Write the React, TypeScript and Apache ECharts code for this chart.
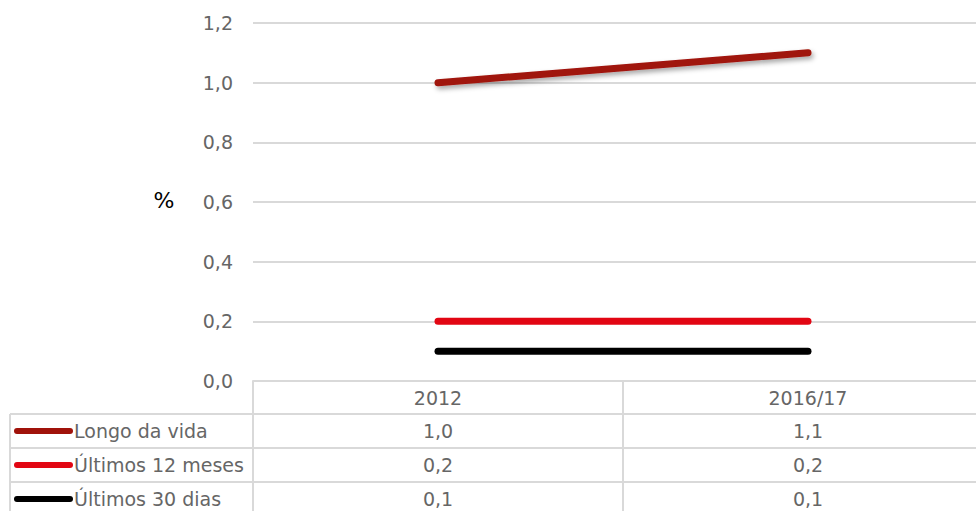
import React, { useEffect, useRef } from "react";
import * as echarts from "echarts";

const categories = ["2012", "2016/17"];
const seriesNames = ["Longo da vida", "Últimos 12 meses", "Últimos 30 dias"];
const longoDaVida = [1.0, 1.1];
const ultimos12 = [0.2, 0.2];
const ultimos30 = [0.1, 0.1];
const seriesColors = ["#A0120A", "#E20613", "#000000"];
const yTicks = { min: 0, max: 1.2, interval: 0.2 };

const fmt = (v: number) => v.toFixed(1).replace(".", ",");

export default function App() {
  const ref = useRef<HTMLDivElement>(null);
  useEffect(() => {
    if (!ref.current) return;
    const chart = echarts.init(ref.current, undefined, { renderer: "svg" });
    const font = "DejaVu Sans";
    const textColor = "#666666";
    const gridLeft = 253;
    const gridTop = 23;
    const gridBottomY = 381;
    const bandW = 370;
    const gridW = bandW * categories.length;
    const rowH = 34;
    const tableTop = 414;
    const tableLeft = 10;
    const lineColor = "#D9D9D9";
    const allData = [longoDaVida, ultimos12, ultimos30];

    const graphics: any[] = [];
    for (let i = 0; i < 3; i++) {
      const y = tableTop + i * rowH;
      graphics.push({
        type: "line",
        shape: { x1: tableLeft, y1: y, x2: 976, y2: y },
        style: { stroke: lineColor, lineWidth: 2 },
        silent: true,
      });
    }
    graphics.push({
      type: "line",
      shape: { x1: tableLeft, y1: tableTop, x2: tableLeft, y2: 511 },
      style: { stroke: lineColor, lineWidth: 2 },
    });
    for (let c = 0; c < categories.length; c++) {
      const x = gridLeft + c * bandW;
      graphics.push({
        type: "line",
        shape: { x1: x, y1: gridBottomY, x2: x, y2: 511 },
        style: { stroke: lineColor, lineWidth: 2 },
      });
    }
    seriesNames.forEach((name, i) => {
      const cy = tableTop + i * rowH + rowH / 2;
      graphics.push({
        type: "line",
        shape: { x1: 17, y1: cy, x2: 70, y2: cy },
        style: { stroke: seriesColors[i], lineWidth: 6, lineCap: "round" },
      });
      graphics.push({
        type: "text",
        x: 74,
        y: cy,
        style: {
          text: name,
          fill: textColor,
          font: `19px '${font}'`,
          textAlign: "left",
          textVerticalAlign: "middle",
        },
      });
      allData[i].forEach((v, c) => {
        graphics.push({
          type: "text",
          x: gridLeft + c * bandW + bandW / 2,
          y: cy,
          style: {
            text: fmt(v),
            fill: textColor,
            font: `19px '${font}'`,
            textAlign: "center",
            textVerticalAlign: "middle",
          },
        });
      });
    });
    graphics.push({
      type: "text",
      x: 164,
      y: 200,
      style: {
        text: "%",
        fill: "#000000",
        font: `22px '${font}'`,
        textAlign: "center",
        textVerticalAlign: "middle",
      },
    });

    const lineSeries = allData.map((d, i) => {
      const sloped = d[0] !== d[d.length - 1];
      return {
        type: "line",
        name: seriesNames[i],
        data: d,
        symbol: "none",
        lineStyle: Object.assign(
          { color: seriesColors[i], width: 7, cap: "round" },
          sloped
            ? {
                shadowColor: "rgba(0,0,0,0.35)",
                shadowBlur: 5,
                shadowOffsetX: 2,
                shadowOffsetY: 3,
              }
            : {}
        ),
        itemStyle: { color: seriesColors[i] },
        z: 5 - i,
      };
    });

    chart.setOption({
      animation: false,
      backgroundColor: "#ffffff",
      grid: {
        left: gridLeft,
        top: gridTop,
        width: gridW,
        height: gridBottomY - gridTop,
        containLabel: false,
        outerBoundsMode: "none",
      },
      xAxis: {
        type: "category",
        data: categories,
        boundaryGap: true,
        axisLine: { show: true, lineStyle: { color: lineColor, width: 2 } },
        axisTick: { show: false },
        axisLabel: {
          color: textColor,
          fontFamily: font,
          fontSize: 19,
          margin: 7,
        },
      },
      yAxis: {
        type: "value",
        min: yTicks.min,
        max: yTicks.max,
        interval: yTicks.interval,
        axisLine: { show: false },
        axisTick: { show: false },
        splitLine: { lineStyle: { color: lineColor, width: 2 } },
        axisLabel: {
          color: textColor,
          fontFamily: font,
          fontSize: 19,
          margin: 20,
          formatter: (v: number) => fmt(v),
        },
      },
      series: lineSeries,
      graphic: graphics,
    });
    return () => chart.dispose();
  }, []);
  return (
    <div
      ref={ref}
      style={{ position: "fixed", left: 0, top: 0, width: 976, height: 511 }}
    />
  );
}
